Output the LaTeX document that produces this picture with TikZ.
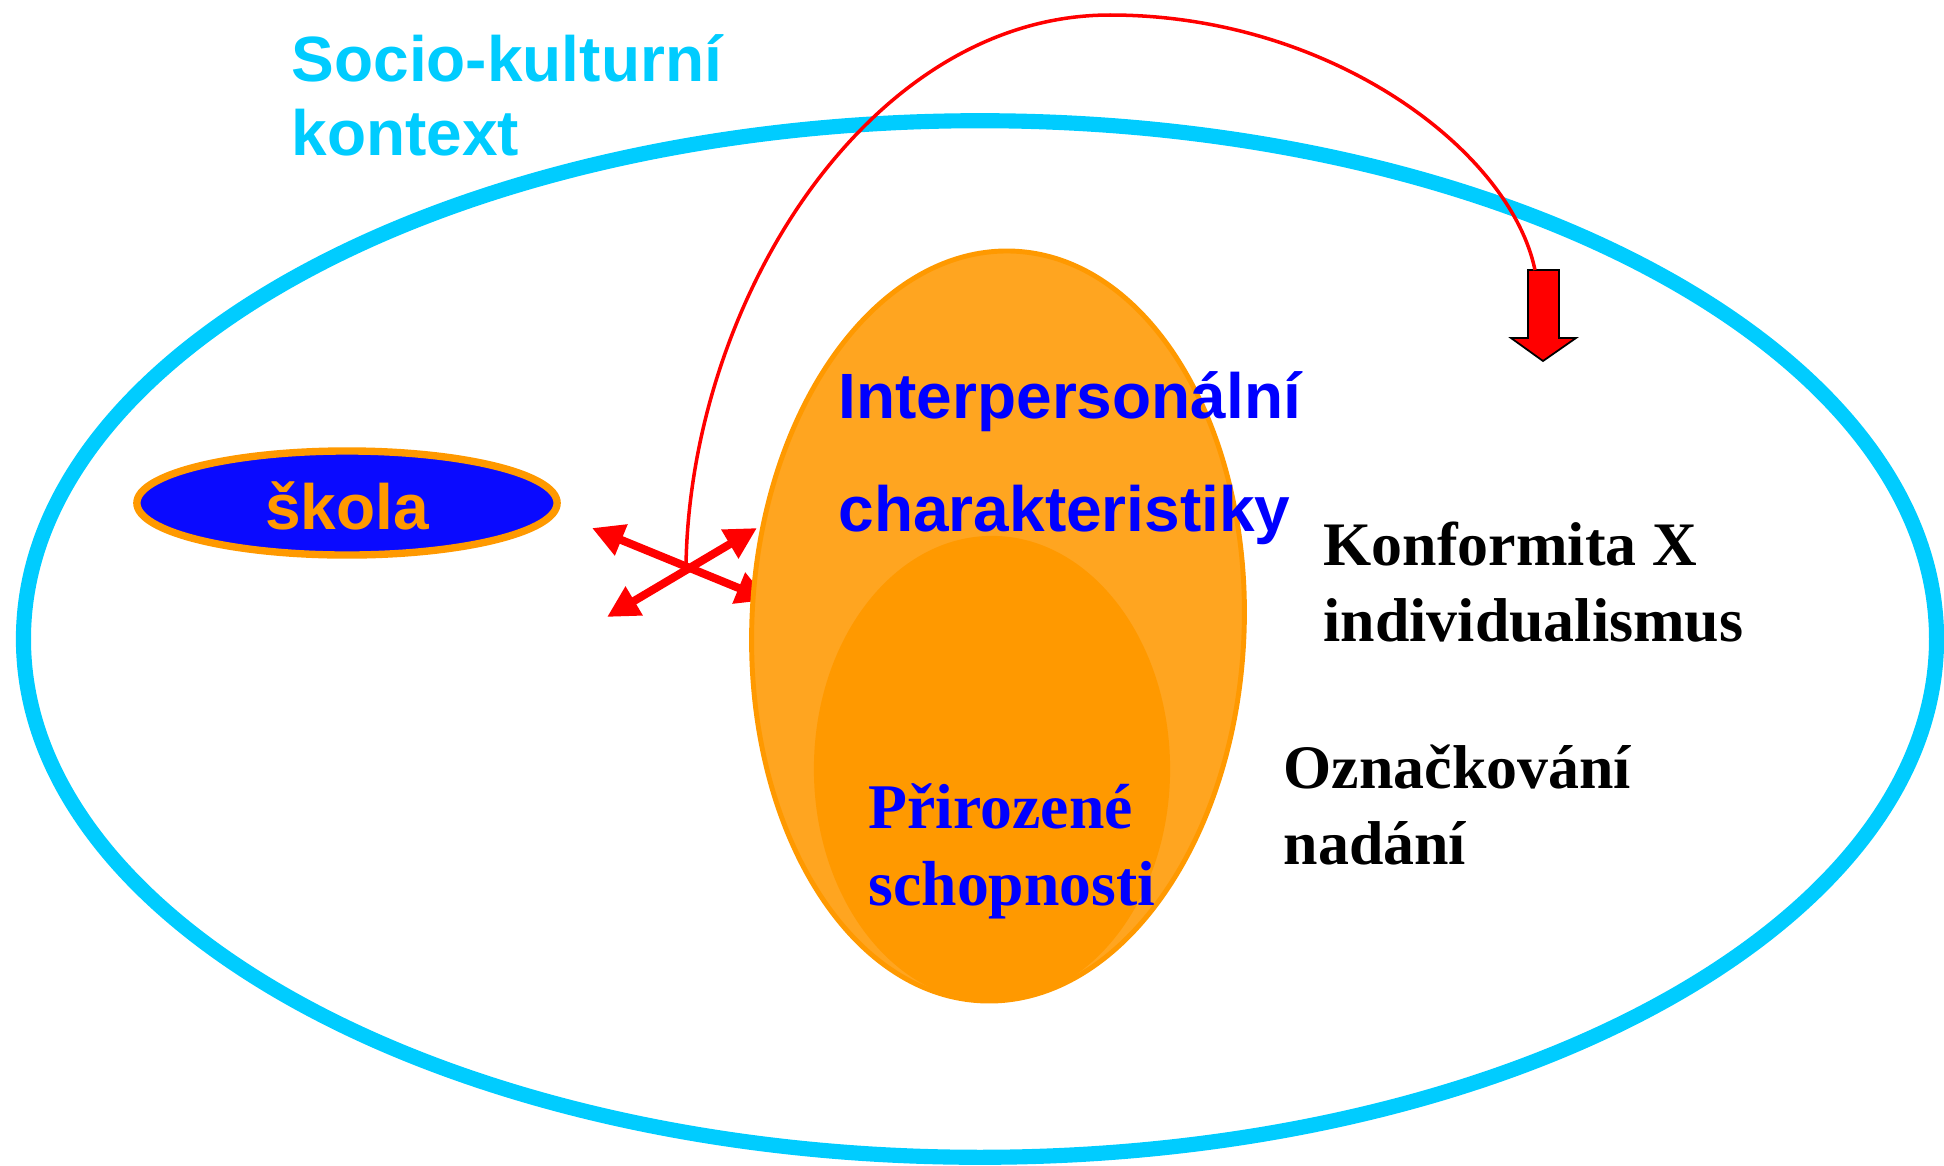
\documentclass[tikz,border=0pt]{standalone}
\usepackage{fontspec}
\setmainfont{Liberation Serif}
\setsansfont{Liberation Sans}
\usetikzlibrary{arrows.meta,shapes.geometric}
\definecolor{skcyan}{RGB}{0,204,255}
\definecolor{skblue}{RGB}{10,10,255}
\definecolor{txtblue}{RGB}{0,0,255}
\definecolor{orangeB}{RGB}{255,153,0}
\definecolor{orangeL}{RGB}{255,165,32}
\definecolor{orangeI}{RGB}{255,153,0}
\definecolor{skred}{RGB}{255,0,0}
\tikzset{
  sanslbl/.style={inner sep=0pt, align=left, font=\sffamily\bfseries\fontsize{18.2pt}{21pt}\selectfont},
  seriflbl/.style={inner sep=0pt, align=left, font=\rmfamily\bfseries\fontsize{17.6pt}{21.5pt}\selectfont},
  redarrow/.style={draw=skred, line width=2.3pt, {Triangle[length=9pt,width=9pt]}-{Triangle[length=9pt,width=9pt]}},
  curveline/.style={draw=skred, line width=1pt},
}
\begin{document}
\begin{tikzpicture}[x=0.01cm,y=-0.01cm]
\useasboundingbox (0,0) rectangle (1944,1166);
% outer context ellipse
\node[ellipse, draw=skcyan, line width=4.3pt, inner sep=0pt, minimum width=19.12cm, minimum height=10.36cm] (ctx) at (980,639) {};
% skola
\node[ellipse, draw=orangeB, fill=skblue, line width=2.1pt, inner sep=0pt, minimum width=4.2cm, minimum height=1.04cm] (skola) at (347,503) {};
\node[sanslbl, text=orangeB, anchor=base] (skolat) at (347,529) {škola};
% cross arrows
\coordinate (a1s) at (592,528);
\coordinate (a1e) at (768,600);
\coordinate (a2s) at (607,617);
\coordinate (a2e) at (757,528);
\coordinate (cross) at (686,566);
\draw[redarrow] (a1s) -- (a1e);
\draw[redarrow] (a2s) -- (a2e);
% big orange ellipse
\node[ellipse, draw=orangeB, fill=orangeL, line width=1.4pt, inner sep=0pt, minimum width=4.92cm, minimum height=7.5cm, rotate=-2.4] (inter) at (998,626) {};
\node[ellipse, fill=orangeI, inner sep=0pt, minimum width=3.56cm, minimum height=4.66cm] (nat) at (992,769) {};
% texts
\node[sanslbl, text=skcyan, anchor=base west] (soc) at (291,155) {Socio-kulturní\\kontext};
\node[sanslbl, text=txtblue, anchor=base west, font=\sffamily\bfseries\fontsize{18.2pt}{32pt}\selectfont] (intt) at (838,531) {Interpersonální\\charakteristiky};
\node[seriflbl, text=txtblue, anchor=base west, font=\rmfamily\bfseries\fontsize{18.1pt}{21.8pt}\selectfont] (natt) at (868,905) {Přirozené\\schopnosti};
\node[seriflbl, text=black, anchor=base west] (konf) at (1323,641) {Konformita X\\individualismus};
\node[seriflbl, text=black, anchor=base west] (ozn) at (1283,864) {Označkování\\nadání};
% block arrow
\coordinate (btop) at (1535,270);
\draw[fill=skred, draw=black, line width=0.5pt] (1528,270) -- (1559,270) -- (1559,338) -- (1576,338) -- (1543,361) -- (1511,338) -- (1528,338) -- cycle;
% curve
\draw[curveline] (cross) .. controls (690,300) and (870,15) .. (1110,15) .. controls (1330,15) and (1510,150) .. (btop);
\end{tikzpicture}
\end{document}
